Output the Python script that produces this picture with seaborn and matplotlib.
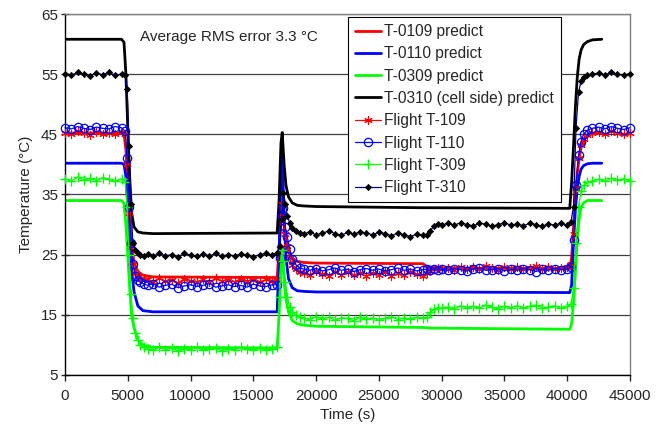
import numpy as np
import pandas as pd
import matplotlib
matplotlib.use("Agg")
import matplotlib.pyplot as plt
import seaborn as sns

# ---------------- data ----------------
pred_time = [0, 4500, 4700, 4850, 5000, 5150, 5300, 5500, 5800, 6200, 7000,
             16900, 17050, 17200, 17300, 17450, 17600, 17800, 18100, 18500, 19000, 20000,
             28500, 29000, 40200, 40350, 40500, 40650, 40800, 40950, 41100, 41300, 41600, 42000, 42750]

pred_t0109 = [45.2, 45.2, 45.0, 42.5, 37.0, 31.0, 26.5, 23.8, 22.2, 21.6, 21.3,
              21.2, 26.0, 32.0, 33.5, 30.0, 27.5, 25.5, 24.4, 23.9, 23.7, 23.6,
              23.5, 22.8, 22.7, 24.5, 29.5, 34.5, 38.5, 41.0, 42.8, 44.0, 44.8, 45.1, 45.2]
pred_t0110 = [40.2, 40.2, 40.0, 38.0, 33.0, 27.5, 22.5, 18.8, 16.5, 15.7, 15.5,
              15.5, 25.0, 38.0, 42.0, 31.0, 24.5, 21.0, 19.5, 19.0, 18.9, 18.8,
              18.8, 18.8, 18.7, 20.0, 27.0, 32.5, 36.0, 38.0, 39.2, 39.8, 40.1, 40.2, 40.2]
pred_t0309 = [34.0, 34.0, 33.5, 30.0, 25.0, 19.5, 15.0, 12.8, 10.8, 10.0, 9.6,
              9.5, 15.0, 23.0, 26.0, 20.5, 17.5, 15.5, 14.0, 13.5, 13.3, 13.1,
              12.9, 12.8, 12.6, 13.5, 17.0, 22.0, 27.5, 31.0, 32.8, 33.6, 34.0, 34.0, 34.0]
pred_t0310 = [60.8, 60.8, 60.3, 55.0, 46.0, 38.0, 32.0, 29.6, 28.8, 28.6, 28.5,
              28.6, 34.0, 43.5, 45.3, 40.0, 36.5, 34.6, 33.6, 33.2, 33.1, 33.0,
              32.8, 32.8, 32.7, 37.0, 43.0, 49.5, 54.5, 57.5, 59.0, 59.9, 60.4, 60.7, 60.8]

flight_time = [0, 500, 1000, 1500, 2000, 2500, 3000, 3500, 4000, 4500,
               4800, 4950, 5100, 5250, 5400, 5600, 5800, 6000, 6300,
               6600, 7000, 7500, 8000, 8500, 9000, 9500, 10000, 10500, 11000, 11500,
               12000, 12500, 13000, 13500, 14000, 14500, 15000, 15500, 16000, 16500,
               16900, 17100, 17250, 17400, 17550, 17700, 17900, 18100, 18400, 18700,
               19000, 19500, 20000, 20500, 21000, 21500, 22000, 22500, 23000, 23500,
               24000, 24500, 25000, 25500, 26000, 26500, 27000, 27500, 28000, 28500,
               28800, 29100, 29400, 29700, 30000,
               30500, 31000, 31500, 32000, 32500, 33000, 33500, 34000, 34500, 35000,
               35500, 36000, 36500, 37000, 37500, 38000, 38500, 39000, 39500, 40000,
               40300, 40500, 40700, 40900, 41100, 41300, 41600, 42000,
               42500, 43000, 43500, 44000, 44500, 45000]

flight_t109 = [45.3, 45.0, 45.5, 45.2, 44.9, 45.4, 45.1, 45.3, 45.0, 45.4,
               45.0, 40.0, 32.0, 26.5, 23.5, 22.0, 21.3, 21.0, 20.8,
               20.9, 20.5, 21.1, 20.6, 20.8, 20.3, 21.0, 20.7, 20.5, 20.9, 20.4,
               21.1, 20.6, 20.8, 20.5, 21.0, 20.6, 20.8, 20.4, 20.9, 20.7,
               21.0, 26.0, 33.5, 31.5, 28.5, 26.5, 24.5, 23.2, 22.6, 22.2,
               22.0, 21.6, 22.3, 21.8, 21.5, 22.1, 21.7, 22.2, 21.6, 21.9,
               21.4, 22.0, 21.7, 22.2, 21.5, 21.9, 21.6, 22.1, 21.8, 21.5,
               21.9, 22.3, 22.6, 22.8, 22.7,
               22.8, 22.5, 23.0, 22.7, 22.9, 22.6, 23.1, 22.8, 22.5, 22.9,
               22.7, 23.0, 22.6, 22.8, 23.1, 22.7, 22.9, 22.6, 22.8, 22.9,
               23.5, 28.5, 36.0, 41.0, 43.2, 44.3, 44.9, 45.2,
               45.4, 45.1, 45.5, 45.2, 45.0, 45.3]
flight_t110 = [46.1, 45.9, 46.3, 46.0, 45.8, 46.2, 46.0, 45.9, 46.3, 46.1,
               45.5, 41.0, 33.0, 27.0, 23.5, 21.5, 20.8, 20.4, 20.1,
               19.9, 20.2, 19.6, 19.9, 20.1, 19.5, 19.8, 20.0, 19.7, 19.9, 20.2,
               19.6, 19.8, 20.0, 19.7, 19.9, 19.6, 20.1, 19.8, 19.7, 20.0,
               20.0, 24.5, 31.5, 32.8, 29.6, 28.0, 26.0, 24.3, 23.3, 22.8,
               22.6, 22.4, 22.7, 22.3, 22.5, 22.8, 22.4, 22.6, 22.2, 22.5,
               22.7, 22.4, 22.6, 22.3, 22.5, 22.8, 22.4, 22.6, 22.3, 22.5,
               22.6, 22.4, 22.7, 22.5, 22.6,
               22.4, 22.7, 22.5, 22.3, 22.6, 22.8, 22.4, 22.5, 22.7, 22.3,
               22.6, 22.4, 22.7, 22.5, 22.2, 22.6, 22.4, 22.7, 22.5, 22.6,
               23.0, 27.5, 36.5, 41.5, 43.8, 45.0, 45.7, 46.0,
               46.2, 45.9, 46.3, 46.0, 45.8, 46.1]
flight_t309 = [37.6, 37.2, 37.9, 37.4, 37.7, 37.3, 37.8, 37.5, 37.2, 37.6,
               37.0, 33.0, 25.0, 18.5, 14.5, 12.0, 10.8, 10.0, 9.6,
               9.4, 9.1, 9.6, 9.2, 9.5, 9.0, 9.4, 9.2, 9.6, 9.1, 9.3,
               9.5, 9.0, 9.4, 9.2, 9.6, 9.3, 9.1, 9.5, 9.2, 9.4,
               9.6, 18.0, 25.8, 24.0, 20.5, 18.0, 16.3, 15.5, 15.0, 14.7,
               14.5, 14.2, 14.7, 14.3, 14.6, 14.1, 14.5, 14.4, 14.0, 14.6,
               14.3, 14.5, 14.1, 14.4, 14.7, 14.2, 14.5, 14.3, 14.6, 14.4,
               14.6, 15.4, 16.0, 16.2, 16.1,
               16.3, 16.0, 16.5, 16.2, 16.4, 16.1, 16.6, 16.3, 16.0, 16.4,
               16.2, 16.5, 16.1, 16.4, 16.6, 16.2, 16.3, 16.5, 16.1, 16.4,
               16.8, 19.5, 27.0, 33.0, 35.5, 36.5, 37.0, 37.3,
               37.5, 37.2, 37.7, 37.4, 37.6, 37.3]
flight_t310 = [55.1, 54.8, 55.3, 55.0, 54.7, 55.2, 54.9, 55.3, 54.8, 55.0,
               54.8, 52.5, 43.0, 33.5, 27.0, 25.8, 25.3, 25.0, 24.8,
               25.1, 24.7, 25.2, 24.8, 25.0, 24.6, 25.2, 24.9, 24.7, 25.1, 24.8,
               25.2, 24.7, 25.0, 24.8, 25.1, 24.9, 24.6, 25.0, 25.2, 24.9,
               25.2, 26.5, 31.0, 35.3, 33.5, 31.5, 30.3, 29.4, 28.9, 28.6,
               28.4, 28.8, 28.3, 28.6, 28.9, 28.5, 28.2, 28.7, 28.4, 28.8,
               28.6, 28.3, 28.7, 28.5, 28.1, 28.6, 28.3, 28.0, 28.4, 28.2,
               28.3, 29.0, 29.8, 30.1, 29.9,
               30.2, 29.9, 30.3, 30.0, 29.8, 30.2, 30.1, 29.7, 30.0, 30.3,
               29.9, 30.1, 29.8, 30.2, 30.0, 29.7, 30.1, 29.9, 30.2, 29.9,
               30.5, 33.0, 46.0, 52.0, 53.8, 54.5, 54.8, 55.0,
               55.2, 54.9, 55.3, 55.0, 54.8, 55.1]

x_ticks = [0, 5000, 10000, 15000, 20000, 25000, 30000, 35000, 40000, 45000]
y_ticks = [5, 15, 25, 35, 45, 55, 65]
annotation = "Average RMS error 3.3 °C"

# ---------------- style ----------------
sns.set_style("ticks")
plt.rcParams["font.family"] = ["Liberation Sans", "DejaVu Sans"]
plt.rcParams["font.size"] = 11

fig = plt.figure(figsize=(6.68, 4.34), dpi=100)
ax = fig.add_axes([65 / 668, 1 - 375 / 434, (630 - 65) / 668, (375 - 14) / 434])

pred = pd.DataFrame({"time": pred_time, "T-0109 predict": pred_t0109,
                     "T-0110 predict": pred_t0110, "T-0309 predict": pred_t0309,
                     "T-0310 (cell side) predict": pred_t0310})
flight = pd.DataFrame({"time": flight_time, "Flight T-109": flight_t109,
                       "Flight T-110": flight_t110, "Flight T-309": flight_t309,
                       "Flight T-310": flight_t310})

pred_colors = {"T-0109 predict": "#ff0000", "T-0110 predict": "#0000ff",
               "T-0309 predict": "#00ff00", "T-0310 (cell side) predict": "#000000"}
for name, col in pred_colors.items():
    sns.lineplot(data=pred, x="time", y=name, ax=ax, color=col, linewidth=2.0,
                 label=name, sort=False, zorder=2)

flight_styles = {
    "Flight T-109": dict(color="#ff0000", marker=(6, 2, 0), markersize=6,
                         markerfacecolor="#ff0000", markeredgecolor="#ff0000", markeredgewidth=0.8),
    "Flight T-110": dict(color="#0000ff", marker="o", markersize=6,
                         markerfacecolor="none", markeredgecolor="#0000ff", markeredgewidth=0.9),
    "Flight T-309": dict(color="#00ff00", marker="+", markersize=7,
                         markerfacecolor="#00ff00", markeredgecolor="#00ff00", markeredgewidth=1.0),
    "Flight T-310": dict(color="#000080", marker="D", markersize=3.2,
                         markerfacecolor="#000000", markeredgecolor="#000000", markeredgewidth=0.5),
}
for name, st in flight_styles.items():
    sns.lineplot(data=flight, x="time", y=name, ax=ax, linewidth=0.9, label=name,
                 sort=False, zorder=3, clip_on=False, **st)

ax.set_xlim(0, 45000)
ax.set_ylim(5, 65)
ax.set_xticks(x_ticks)
ax.set_yticks(y_ticks)
ax.set_xticklabels([str(v) for v in x_ticks])
ax.set_yticklabels([str(v) for v in y_ticks])
ax.yaxis.grid(True, color="#404040", linewidth=0.9)
ax.set_axisbelow(True)

for s in ["top", "right"]:
    ax.spines[s].set_color("#808080")
for s in ["left", "bottom"]:
    ax.spines[s].set_color("#000000")
for s in ax.spines.values():
    s.set_linewidth(1.0)
ax.tick_params(axis="y", direction="inout", length=6, width=1, labelsize=11, pad=2)
ax.tick_params(axis="x", direction="out", length=4, width=1, labelsize=11, pad=6)

ax.set_xlabel("Time (s)", fontsize=11, labelpad=4)
ax.set_ylabel("Temperature (°C)", fontsize=11, labelpad=6)

ax.text(6000, 61.2, annotation, fontsize=11, ha="left", va="center")

leg = ax.legend(loc="upper left", bbox_to_anchor=((348 - 65) / 565, 1 - 3 / 361),
                borderaxespad=0, frameon=True, fancybox=False, fontsize=11.2,
                handlelength=1.7, handletextpad=0.15, labelspacing=0.47,
                borderpad=0.45, framealpha=1, numpoints=1)
leg.get_frame().set_edgecolor("#000000")
leg.get_frame().set_linewidth(0.8)
leg.set_zorder(10)

fig.savefig("out.png", dpi=100)
